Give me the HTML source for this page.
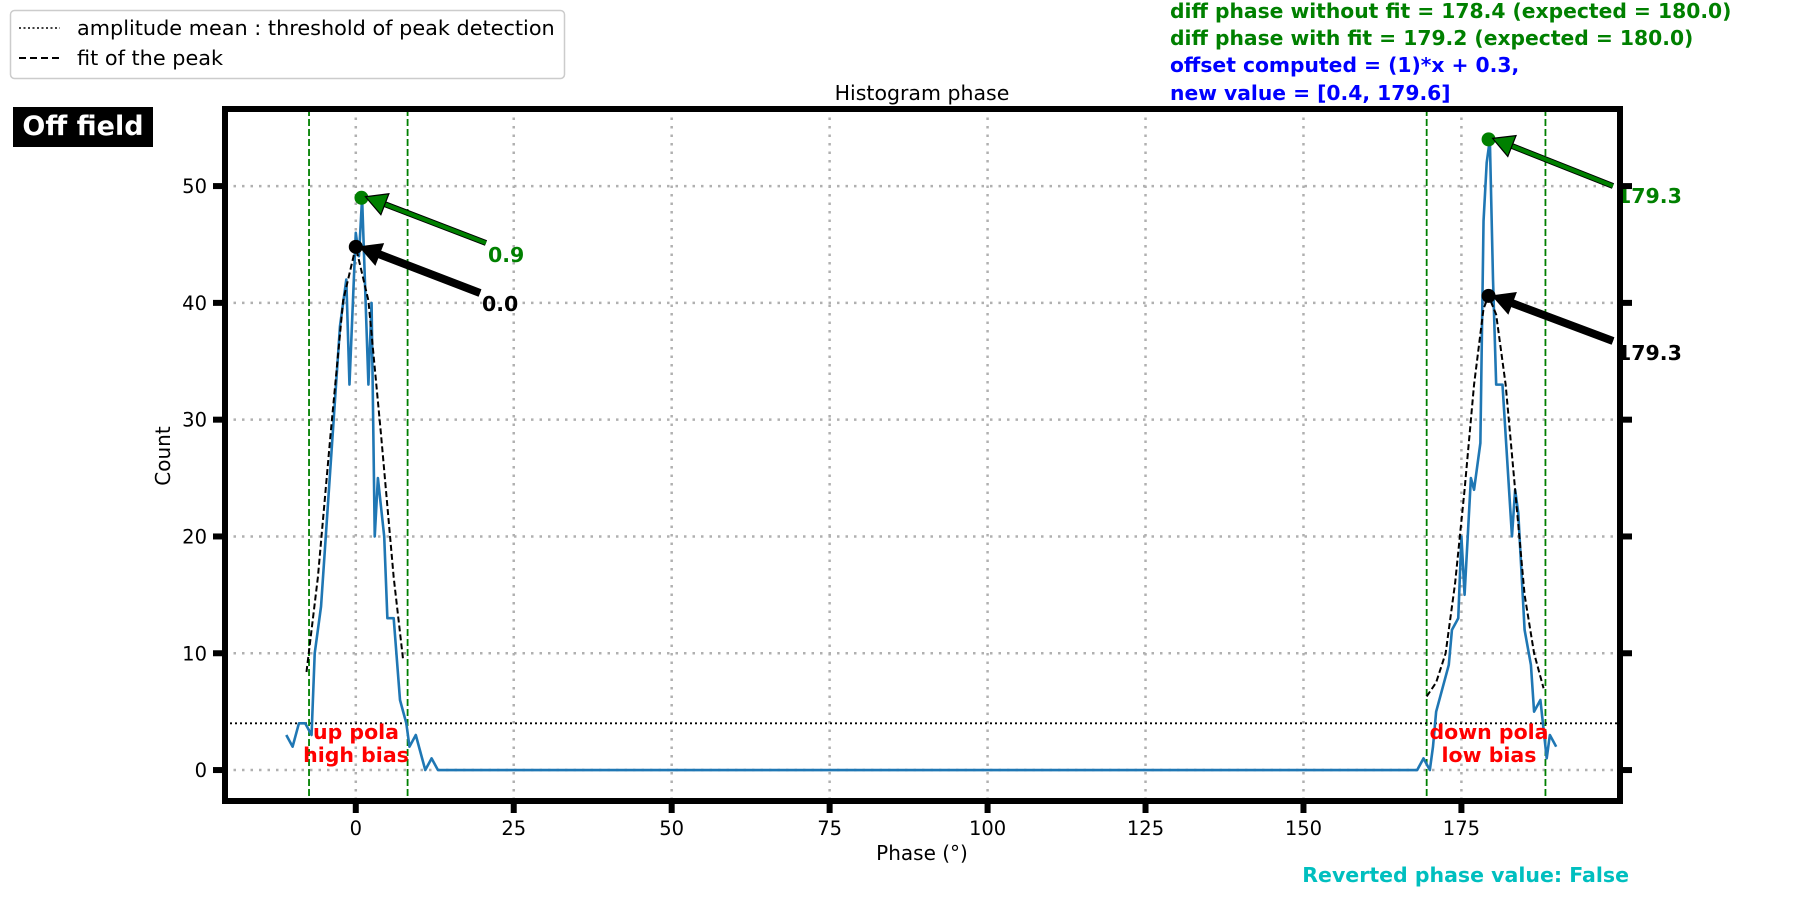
<!DOCTYPE html>
<html><head><meta charset="utf-8"><style>
html,body{margin:0;padding:0;background:#fff;width:1800px;height:900px;overflow:hidden}
svg{display:block;font-family:"DejaVu Sans","Liberation Sans",sans-serif}
</style></head><body>
<svg id="chart" width="1800" height="900" viewBox="0 0 1800 900"></svg>
<script>
const histX=[-11,-10,-9,-8,-7,-6.5,-5.5,-4.5,-3.5,-2.5,-1.5,-1,0,0.5,1,2,2.5,3,3.5,4.5,5,6,7,8,8.5,9.5,10.5,11,12,13,168,169,170,170.5,171,172,173,173.5,174.5,175,175.5,176.5,177,178,178.5,179,179.5,180,180.5,181.5,183,183.5,184,185,186,186.5,187.5,188.5,189,190];
const histY=[3,2,4,4,3,10,14,22,30,38,42,33,46,44,49,33,40,20,25,20,13,13,6,4,2,3,1,0,1,0,0,1,0,2,5,7,9,12,13,20,15,25,24,28,47,52,54,42,33,33,20,24,22,12,9,5,6,1,3,2];
const fitLeftX=[-7.8,-6,-4,-2,0,2,4,6,7.5];
const fitLeftY=[8.4,16.5,28.7,40.2,44.8,40.2,28.7,16.5,9.4];
const fitRightX=[169.5,171,172.5,174,175.5,177,178.5,179.3,180.5,182,183.5,185,186.5,188];
const fitRightY=[6.3,7.5,10,16,24,33,39.5,40.6,39,33,24,15,10,7];
const xTicks=[0,25,50,75,100,125,150,175];
const yTicks=[0,10,20,30,40,50];
const boundaries=[-7.4,8.2,169.5,188.3];
const threshold=[4];
const peakRaw=[[0.9,49,"0.9"],[179.3,54,"179.3"]];
const peakFit=[[0,44.8,"0.0"],[179.3,40.6,"179.3"]];

const L=225,R=1620,T=109,B=801;
const x0=-20.7,x1=200.1,y0=-2.65,y1=56.6;
const sx=v=>L+(v-x0)/(x1-x0)*(R-L);
const sy=v=>B-(v-y0)/(y1-y0)*(B-T);
const svg=document.getElementById('chart');
const NS='http://www.w3.org/2000/svg';
function mk(tag,attrs,parent){const e=document.createElementNS(NS,tag);for(const k in attrs)e.setAttribute(k,attrs[k]);(parent||svg).appendChild(e);return e;}
function txt(s,attrs){const e=mk('text',attrs);e.textContent=s;return e;}

xTicks.forEach(v=>{const g=mk('line',{x1:sx(v),x2:sx(v),y1:T,y2:B,stroke:'#b0b0b0','stroke-width':2.5,'stroke-dasharray':'2.5,6'});

});
yTicks.forEach(v=>{const g=mk('line',{x1:L,x2:R,y1:sy(v),y2:sy(v),stroke:'#b0b0b0','stroke-width':2.5,'stroke-dasharray':'2.5,6'});

});
boundaries.forEach(v=>{const g=mk('line',{x1:sx(v),x2:sx(v),y1:T,y2:B,stroke:'#008000','stroke-width':1.8,'stroke-dasharray':'7,3'});

});
threshold.forEach(v=>{const g=mk('line',{x1:L,x2:R,y1:sy(v),y2:sy(v),stroke:'#000','stroke-width':1.8,'stroke-dasharray':'2,3'});

});
const hp=mk('polyline',{points:histX.map((x,i)=>sx(x)+','+sy(histY[i])).join(' '),fill:'none',stroke:'#1f77b4','stroke-width':2.6,'stroke-linejoin':'round'});


[[fitLeftX,fitLeftY],[fitRightX,fitRightY]].forEach(([fx,fy])=>{const f=mk('polyline',{points:fx.map((x,i)=>sx(x)+','+sy(fy[i])).join(' '),fill:'none',stroke:'#000','stroke-width':2,'stroke-dasharray':'6,3'});

});

function arrow(px,py,tx,ty,color,w,head){
  const dx=px-tx,dy=py-ty,len=Math.hypot(dx,dy),ux=dx/len,uy=dy/len;
  const bx=px-ux*head*1.3,by=py-uy*head*1.3;
  const a=mk('g',{});
  
  
  mk('line',{x1:tx,y1:ty,x2:bx,y2:by,stroke:'#000','stroke-width':w+2},a);
  mk('line',{x1:tx,y1:ty,x2:bx,y2:by,stroke:color,'stroke-width':w},a);
  const nx=-uy,ny=ux;
  mk('polygon',{points:`${px},${py} ${bx+nx*head*0.7},${by+ny*head*0.7} ${bx-nx*head*0.7},${by-ny*head*0.7}`,fill:color,stroke:'#000','stroke-width':1.2},a);
}
const rawTxt=[[486,243,488,262],[1613,186,1617,203]];
const fitTxt=[[480,293,482,311],[1613,341,1617,360]];
peakRaw.forEach((p,i)=>{const d=mk('circle',{cx:sx(p[0]),cy:sy(p[1]),r:7,fill:'#008000'});


arrow(sx(p[0])+4,sy(p[1])-1,rawTxt[i][0],rawTxt[i][1],'green',4,16);
const t=txt(p[2],{x:rawTxt[i][2],y:rawTxt[i][3],fill:'#008000','font-size':20.5,'font-weight':'bold'});

});
peakFit.forEach((p,i)=>{const d=mk('circle',{cx:sx(p[0]),cy:sy(p[1]),r:7,fill:'#000'});


arrow(sx(p[0])+4,sy(p[1]),fitTxt[i][0],fitTxt[i][1],'#000',6,16);
const t=txt(p[2],{x:fitTxt[i][2],y:fitTxt[i][3],fill:'#000','font-size':20.5,'font-weight':'bold'});

});

const sp=mk('rect',{x:L,y:T,width:R-L,height:B-T,fill:'none',stroke:'#000','stroke-width':6});


xTicks.forEach(v=>{mk('line',{x1:sx(v),x2:sx(v),y1:B,y2:B+12,stroke:'#000','stroke-width':6});
const t=txt(String(v),{x:sx(v),y:B+34,'text-anchor':'middle','font-size':19.5});

});
yTicks.forEach(v=>{mk('line',{x1:L-12,x2:L,y1:sy(v),y2:sy(v),stroke:'#000','stroke-width':6});
mk('line',{x1:R,x2:R+12,y1:sy(v),y2:sy(v),stroke:'#000','stroke-width':6});
const t=txt(String(v),{x:L-18,y:sy(v)+7,'text-anchor':'end','font-size':19.5});

});
</script>
<svg width="1800" height="900" style="position:absolute;left:0;top:0;font-family:'DejaVu Sans','Liberation Sans',sans-serif">
<text x="922" y="860" text-anchor="middle" font-size="20">Phase (°)</text>
<text transform="translate(170,456) rotate(-90)" text-anchor="middle" font-size="20">Count</text>
<text x="922" y="100" text-anchor="middle" font-size="20.5">Histogram phase</text>
<g>
<rect x="10.5" y="10.5" width="554" height="68" rx="4" fill="#fff" stroke="#ccc" stroke-width="1.5"/>
<line x1="19" x2="60" y1="28" y2="28" stroke="#000" stroke-width="1.5" stroke-dasharray="2,2.5"/>
<text x="77" y="35" font-size="20.8">amplitude mean : threshold of peak detection</text>
<line x1="19" x2="60" y1="58" y2="58" stroke="#000" stroke-width="2" stroke-dasharray="7,4"/>
<text x="77" y="65" font-size="20.8">fit of the peak</text>
</g>
<rect x="13" y="107" width="140" height="40" fill="#000"/>
<text x="83" y="135" text-anchor="middle" font-size="27" font-weight="bold" fill="#fff">Off field</text>
<g font-size="20.3" font-weight="bold">
<text x="1170" y="18" fill="#008000">diff phase without fit = 178.4 (expected = 180.0)</text>
<text x="1170" y="45" fill="#008000">diff phase with fit = 179.2 (expected = 180.0)</text>
<text x="1170" y="72" fill="#0000ff">offset computed = (1)*x + 0.3,</text>
<text x="1170" y="100" fill="#0000ff">new value = [0.4, 179.6]</text>
</g>
<text x="1629" y="882" text-anchor="end" font-size="20.5" font-weight="bold" fill="#00bfbf">Reverted phase value: False</text>
<g font-size="20.5" font-weight="bold" fill="#ff0000" text-anchor="middle">
<text x="356" y="739">up pola</text><text x="356" y="762">high bias</text></g>
<g font-size="20.5" font-weight="bold" fill="#ff0000" text-anchor="middle">
<text x="1489" y="739">down pola</text><text x="1489" y="762">low bias</text></g>
</svg>
</body></html>
